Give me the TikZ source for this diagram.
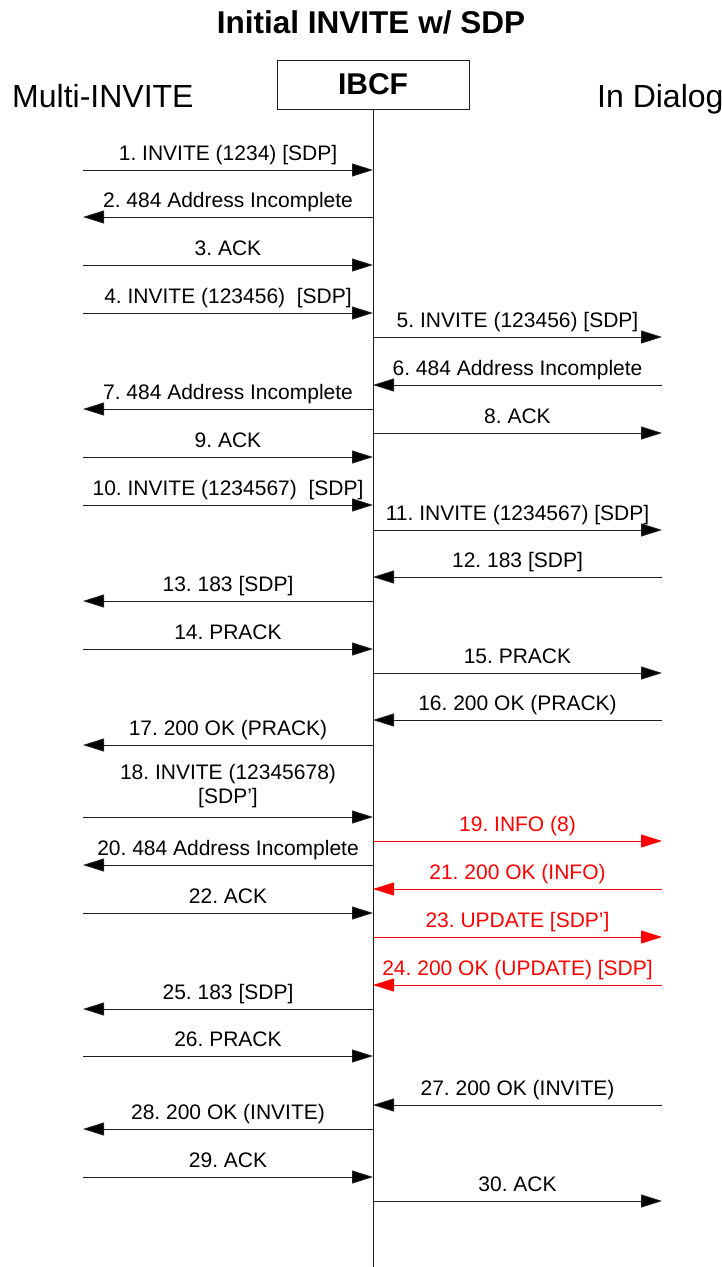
\documentclass[tikz,border=0pt]{standalone}
\usepackage{fontspec}
\setmainfont{Liberation Sans}
\usetikzlibrary{arrows.meta}
\definecolor{linegray}{RGB}{30,30,30}
\frenchspacing
\tikzset{
  msg/.style={draw=linegray, line width=0.9pt, -{Triangle[length=21pt,width=13pt,fill=black]}},
  redmsg/.style={draw=red, line width=0.9pt, -{Triangle[length=21pt,width=13pt,fill=red]}},
  lbl/.style={midway, anchor=base, yshift=10pt, inner sep=0pt, font=\fontsize{21}{24}\selectfont},
  redlbl/.style={lbl, text=red},
  hdr/.style={anchor=base west, inner sep=0pt, font=\fontsize{32}{36}\selectfont},
}
\begin{document}
\begin{tikzpicture}[x=1pt,y=-1pt]
\useasboundingbox (0,0) rectangle (722,1267);
\node[anchor=base, inner sep=0pt, font=\fontsize{31.5}{36}\selectfont\bfseries] (title) at (371,33) {Initial INVITE w/ SDP};
\node[hdr] (multi) at (12,107) {Multi-INVITE};
\node[hdr] (indialog) at (597,107) {In Dialog};
\node[draw=linegray, line width=0.9pt, minimum width=192pt, minimum height=49pt, inner sep=0pt,
      font=\fontsize{30}{36}\selectfont\bfseries] (ibcf) at (373,84.5) {IBCF};
\coordinate (lifeend) at (373,1267);
\draw[linegray, line width=0.9pt] (ibcf.south) -- (lifeend);
\foreach \i/\y in {1/170,2/217,3/265,4/313,5/337,6/385,7/409,8/433,9/457,10/505,11/530,12/577,13/601,14/649,15/673,16/720,17/745,18/817,19/841,20/865,21/889,22/913,23/937,24/985,25/1009,26/1056,27/1105,28/1129,29/1177,30/1201}{
  \coordinate (L\i) at (83,\y);
  \coordinate (M\i) at (373,\y);
  \coordinate (R\i) at (662,\y);
}
\draw[msg] (L1) -- node[lbl]{1. INVITE (1234) [SDP]} (M1);
\draw[msg] (M2) -- node[lbl]{2. 484 Address Incomplete} (L2);
\draw[msg] (L3) -- node[lbl]{3. ACK} (M3);
\draw[msg] (L4) -- node[lbl]{4. INVITE (123456)\ \ [SDP]} (M4);
\draw[msg] (M5) -- node[lbl]{5. INVITE (123456) [SDP]} (R5);
\draw[msg] (R6) -- node[lbl]{6. 484 Address Incomplete} (M6);
\draw[msg] (M7) -- node[lbl]{7. 484 Address Incomplete} (L7);
\draw[msg] (M8) -- node[lbl]{8. ACK} (R8);
\draw[msg] (L9) -- node[lbl]{9. ACK} (M9);
\draw[msg] (L10) -- node[lbl]{10. INVITE (1234567)\ \ [SDP]} (M10);
\draw[msg] (M11) -- node[lbl]{11. INVITE (1234567) [SDP]} (R11);
\draw[msg] (R12) -- node[lbl]{12. 183 [SDP]} (M12);
\draw[msg] (M13) -- node[lbl]{13. 183 [SDP]} (L13);
\draw[msg] (L14) -- node[lbl]{14. PRACK} (M14);
\draw[msg] (M15) -- node[lbl]{15. PRACK} (R15);
\draw[msg] (R16) -- node[lbl]{16. 200 OK (PRACK)} (M16);
\draw[msg] (M17) -- node[lbl]{17. 200 OK (PRACK)} (L17);
\draw[msg] (L18) -- node[lbl, anchor=south, yshift=-1pt, align=center]{18. INVITE (12345678)\\{}[SDP’]} (M18);
\draw[redmsg] (M19) -- node[redlbl]{19. INFO (8)} (R19);
\draw[msg] (M20) -- node[lbl]{20. 484 Address Incomplete} (L20);
\draw[redmsg] (R21) -- node[redlbl]{21. 200 OK (INFO)} (M21);
\draw[msg] (L22) -- node[lbl]{22. ACK} (M22);
\draw[redmsg] (M23) -- node[redlbl]{23. UPDATE [SDP’]} (R23);
\draw[redmsg] (R24) -- node[redlbl]{24. 200 OK (UPDATE) [SDP]} (M24);
\draw[msg] (M25) -- node[lbl]{25. 183 [SDP]} (L25);
\draw[msg] (L26) -- node[lbl]{26. PRACK} (M26);
\draw[msg] (R27) -- node[lbl]{27. 200 OK (INVITE)} (M27);
\draw[msg] (M28) -- node[lbl]{28. 200 OK (INVITE)} (L28);
\draw[msg] (L29) -- node[lbl]{29. ACK} (M29);
\draw[msg] (M30) -- node[lbl]{30. ACK} (R30);
\end{tikzpicture}
\end{document}
